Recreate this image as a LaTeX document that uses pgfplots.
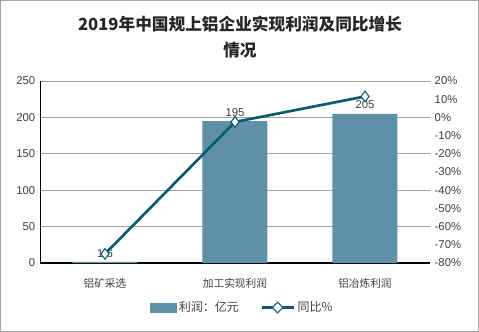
\documentclass[border=0pt]{standalone}
\usepackage{pgfplots}
\pgfplotsset{compat=1.18}
\usepackage{fontspec}
\setmainfont{Liberation Sans}
\newfontfamily\cjk{Noto Sans CJK SC}
\definecolor{barc}{HTML}{5E90A8}
\definecolor{linec}{HTML}{0C5A72}
\definecolor{txt}{HTML}{404040}
\definecolor{gridc}{HTML}{A0A0A0}
\begin{document}
\begin{tikzpicture}[x=0.75pt,y=0.75pt]
\draw[gray!70, line width=0.75pt] (0.5,-0.5) rectangle (478.5,-331.5);
\node[align=center, font=\cjk\bfseries\fontsize{12.5}{19}\selectfont, text=black!85] at (240,-37) {2019年中国规上铝企业实现利润及同比增长\\情况};
\begin{axis}[
  at={(40*0.75pt,-263*0.75pt)}, anchor=south west,
  scale only axis, width=292.5pt, height=136.5pt,
  xmin=-0.5, xmax=2.5, ymin=0, ymax=250,
  ytick={0,50,...,250},
  xtick={0,1,2},
  xticklabels={铝矿采选,加工实现利润,铝冶炼利润},
  x tick label style={font=\cjk\fontsize{8}{9}\selectfont, text=txt, yshift=-8pt},
  y tick label style={font=\fontsize{8.5}{10}\selectfont, text=txt},
  /pgf/number format/assume math mode=true,
  axis x line*=bottom, axis y line=none,
  hide y axis=false,
  major tick length=0pt,
  ymajorgrids, grid style={gridc, line width=0.6pt},
  x axis line style={black, line width=0.8pt},
  axis line style={-},
  ybar, bar width=48.75pt,
  nodes near coords,
  every node near coord/.append style={font=\fontsize{8.5}{10}\selectfont, text=txt},
  point meta=explicit symbolic,
  clip=false,
]
\addplot[fill=barc, draw=none] coordinates {(0,1.6) [1.6] (1,195) [195] (2,205) [205]};
\end{axis}
\begin{axis}[
  at={(40*0.75pt,-263*0.75pt)}, anchor=south west,
  scale only axis, width=292.5pt, height=136.5pt,
  xmin=-0.5, xmax=2.5, ymin=-80, ymax=20,
  ytick={-80,-70,...,20},
  yticklabel={\pgfmathprintnumber{\tick}\%},
  /pgf/number format/assume math mode=true,
  y tick label style={font=\fontsize{8.5}{10}\selectfont, text=txt},
  axis y line*=right, axis x line=none,
  y axis line style={draw=none},
  major tick length=0pt,
  xtick=\empty,
  clip=false,
  legend style={at={(0.52,-0.245)}, anchor=center, draw=none, fill=none,
    legend columns=2, font=\cjk\fontsize{9}{10}\selectfont, text=txt,
    /tikz/every even column/.append style={column sep=14pt}},
]
\addlegendimage{legend image code/.code={\fill[barc] (0pt,-3.5pt) rectangle (19pt,3.5pt);}}
\addlegendentry{利润：亿元}
\addplot[linec, line width=2pt, mark=diamond*, mark size=4pt,
  mark options={fill=white, draw=linec, line width=0.8pt},
  legend image code/.code={\draw[linec, line width=2pt] (0pt,0pt) -- (24pt,0pt); \draw[fill=white, draw=linec, line width=0.8pt] (12pt,-4pt) -- (16pt,0pt) -- (12pt,4pt) -- (8pt,0pt) -- cycle;}]
  coordinates {(0,-75) (1,-2.5) (2,11.5)};
\addlegendentry{同比\%}
\end{axis}
\end{tikzpicture}
\end{document}
